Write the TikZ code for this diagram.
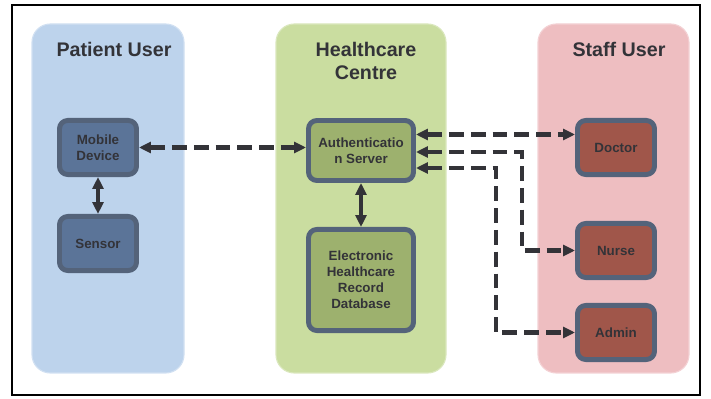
\documentclass[tikz,border=0pt]{standalone}
\usepackage{fontspec}
\setmainfont{Liberation Sans}
\usetikzlibrary{arrows.meta,calc}

\definecolor{panelblue}{RGB}{189,211,236}
\definecolor{panelgreen}{RGB}{202,221,160}
\definecolor{panelpink}{RGB}{238,190,193}
\definecolor{boxblue}{RGB}{91,116,152}
\definecolor{boxgreen}{RGB}{157,177,110}
\definecolor{boxred}{RGB}{160,86,74}
\definecolor{boxedge}{RGB}{84,99,122}
\definecolor{inkgrey}{RGB}{51,51,56}

\begin{document}
\begin{tikzpicture}[x=0.025cm,y=-0.025cm,
    >={Triangle[length=8.5pt,width=7.8pt]},
    panel/.style={rounded corners=13pt, line width=0.8pt},
    title/.style={text=inkgrey, font=\bfseries\fontsize{14}{17}\selectfont, align=center, inner sep=0pt},
    box/.style={draw=boxedge, line width=3.5pt, rounded corners=6pt, text=inkgrey,
        font=\bfseries\fontsize{9.5}{11.4}\selectfont, align=center, inner sep=0pt,
        minimum width=54.8pt, minimum height=38.5pt},
    dasharrow/.style={<->, draw=inkgrey, line width=2.9pt, dash pattern=on 10.5pt off 5pt},
    solidarrow/.style={<->, draw=inkgrey, line width=2.9pt}]
    \useasboundingbox (0,0) rectangle (711,399);
    \draw[line width=0.8pt] (12,5) rectangle (700,395);

    % Panels
    \filldraw[panel, fill=panelblue, draw=panelblue!70!white] (32,24) rectangle (184,373);
    \filldraw[panel, fill=panelgreen, draw=panelgreen!70!white] (276,24) rectangle (446,373);
    \filldraw[panel, fill=panelpink, draw=panelpink!70!white] (538,24) rectangle (689,373);

    \node[title] (ptitle) at (114,49) {Patient User};
    \node[title] (htitle) at (366,61) {Healthcare\\Centre};
    \node[title] (stitle) at (619,49) {Staff User};

    % Boxes
    \node[box, fill=boxblue] (mob) at (98,147.5) {Mobile\\Device};
    \node[box, fill=boxblue] (sen) at (98,243.5) {Sensor};
    \node[box, fill=boxgreen, minimum width=74.7pt, minimum height=42.7pt] (auth) at (361,150.5) {Authenticatio\\n Server};
    \node[box, fill=boxgreen, minimum width=74.7pt, minimum height=71.9pt] (ehr) at (361,280) {Electronic\\Healthcare\\Record\\Database};
    \node[box, fill=boxred] (doc) at (616,147.5) {Doctor};
    \node[box, fill=boxred] (nurse) at (616,250.5) {Nurse};
    \node[box, fill=boxred] (admin) at (616,332.5) {Admin};

    % Links
    \draw[solidarrow] (mob) -- (sen);
    \draw[solidarrow] (auth) -- (ehr);
    \draw[dasharrow] (mob.east) -- (mob.east -| auth.west);

    \coordinate (s1) at ($(auth.east)+(0,-16)$);
    \coordinate (s2) at ($(auth.east)+(0,1.5)$);
    \coordinate (s3) at ($(auth.east)+(0,17.5)$);
    \draw[dasharrow] (s1) -- (s1 -| doc.west);
    \draw[dasharrow] (s2) -| ($(nurse.west)+(-53,0)$) -- (nurse.west);
    \draw[dasharrow] (s3) -| ($(admin.west)+(-79,0)$) -- (admin.west);
\end{tikzpicture}
\end{document}
